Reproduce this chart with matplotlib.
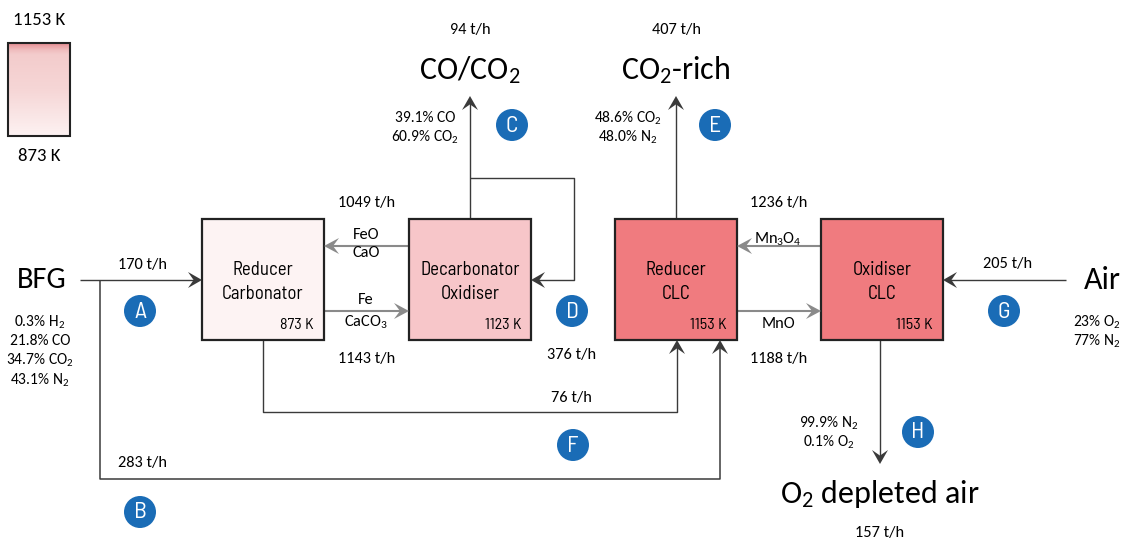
"""Process flow diagram: BFG chemical looping with Ca/Fe and Mn carriers
"""
import numpy as np
import matplotlib.pyplot as plt
from matplotlib import font_manager
from matplotlib.patches import Rectangle, Circle, Polygon
from matplotlib.colors import LinearSegmentedColormap

installed = {f.name for f in font_manager.fontManager.ttflist}


def pick(options, default):
    for o in options:
        if o in installed:
            return o
    return default


TEXT_FONT = pick(['Carlito', 'Lato'], 'DejaVu Sans')
BOX_FONT = pick(['Barlow Semi Condensed', 'Roboto Condensed', 'Liberation Sans Narrow'], TEXT_FONT)
BOX_SIZE = 13.5 if BOX_FONT != TEXT_FONT else 12.5

plt.rcParams['font.family'] = [TEXT_FONT, 'DejaVu Sans']
plt.rcParams['mathtext.fontset'] = 'custom'
plt.rcParams['mathtext.rm'] = TEXT_FONT
plt.rcParams['mathtext.it'] = TEXT_FONT + ':italic'
plt.rcParams['mathtext.bf'] = TEXT_FONT + ':bold'

# reactors
box_names = ['Reducer\nCarbonator', 'Decarbonator\nOxidiser', 'Reducer\nCLC', 'Oxidiser\nCLC']
box_temps = ['873 K', '1123 K', '1153 K', '1153 K']
box_colors = ['#fdf3f3', '#f7c6c9', '#f07b7f', '#f07b7f']

# stream points
stream_ids = ['A', 'B', 'C', 'D', 'E', 'F', 'G', 'H']
flow_labels = ['170 t/h', '283 t/h', '94 t/h', '376 t/h', '407 t/h', '76 t/h', '205 t/h', '157 t/h']

# solids circulation
solid_flows = ['1049 t/h', '1143 t/h', '1236 t/h', '1188 t/h']
solid_species = ['FeO\nCaO', 'Fe\nCaCO$_3$', 'Mn$_3$O$_4$', 'MnO']

# compositions
bfg_comp = ['0.3% H$_2$', '21.8% CO', '34.7% CO$_2$', '43.1% N$_2$']
coco2_comp = ['39.1% CO', '60.9% CO$_2$']
rich_comp = ['48.6% CO$_2$', '48.0% N$_2$']
air_comp = ['23% O$_2$', '77% N$_2$']
depl_comp = ['99.9% N$_2$', '0.1% O$_2$']

temp_range = ['1153 K', '873 K']

LINE = '#3a3a3a'
GREY = '#8a8a8a'
BLUE = '#1a6cb6'
CARLITO = TEXT_FONT == 'Carlito'
SMALL = 11.8 if CARLITO else 10.5
COMP = 11.2 if CARLITO else 10
BIG = 23 if CARLITO else 22
LEG = 13.5 if CARLITO else 12.5


def head(ax, tip, direction, color, L=14, W=8):
    d = np.array(direction, float)
    d /= np.linalg.norm(d)
    n = np.array([-d[1], d[0]])
    t = np.array(tip, float)
    pts = [t, t - L * d + W * n, t - 0.6 * L * d, t - L * d - W * n]
    ax.add_patch(Polygon(pts, closed=True, facecolor=color, edgecolor='none', zorder=5))


def flow(ax, pts, color=LINE, lw=1.0, arrow=True, L=14, W=8):
    xs, ys = zip(*pts)
    if arrow:
        d = np.subtract(pts[-1], pts[-2]).astype(float)
        d /= np.linalg.norm(d)
        end = np.array(pts[-1]) - d * 0.5 * L
        xs = list(xs[:-1]) + [end[0]]
        ys = list(ys[:-1]) + [end[1]]
    ax.plot(xs, ys, color=color, lw=lw, solid_capstyle='butt', zorder=3)
    if arrow:
        head(ax, pts[-1], np.subtract(pts[-1], pts[-2]), color, L, W)


def badge(ax, x, y, letter):
    ax.add_patch(Circle((x, y), 16, facecolor=BLUE, edgecolor='none', zorder=6))
    ax.text(x, y + 1, letter, color='white', fontsize=17, ha='center', va='center',
            family=[BOX_FONT, 'DejaVu Sans'], zorder=7)


def main():
    fig = plt.figure(figsize=(11.26, 5.41), dpi=100)
    ax = fig.add_axes([0, 0, 1, 1])
    ax.set_xlim(0, 1126)
    ax.set_ylim(541, 0)
    ax.axis('off')

    # temperature scale
    cmap = LinearSegmentedColormap.from_list(
        'temp', [(0, '#e68f94'), (0.07, '#efbcbd'), (0.12, '#f3cccc'), (0.5, '#f6d6d6'), (1, '#fdf2f2')])
    grad = np.linspace(0, 1, 200).reshape(-1, 1)
    ax.imshow(grad, cmap=cmap, extent=(8, 70, 136, 43), aspect='auto', zorder=1)
    ax.add_patch(Rectangle((8, 43), 62, 93, fill=False, edgecolor='#222222', lw=1.5, zorder=2))
    ax.text(39, 20, temp_range[0], fontsize=LEG, ha='center', va='center')
    ax.text(39, 156, temp_range[1], fontsize=LEG, ha='center', va='center')

    # reactors
    box_x = [202, 409, 615, 821]
    bw, top, bh = 122, 219, 121
    for x, name, temp, col in zip(box_x, box_names, box_temps, box_colors):
        ax.add_patch(Rectangle((x, top), bw, bh, facecolor=col, edgecolor='#222222', lw=1.6, zorder=4))
        ax.text(x + bw / 2, top + 63, name, fontsize=BOX_SIZE, ha='center', va='center',
                family=[BOX_FONT, 'DejaVu Sans'], linespacing=1.45, zorder=5)
        ax.text(x + bw - 10, top + 106, temp, fontsize=BOX_SIZE - 2, ha='right', va='center',
                family=[BOX_FONT, 'DejaVu Sans'], zorder=5)

    y_mid = 280
    # BFG feed
    ax.text(42, y_mid, 'BFG', fontsize=BIG - 1, ha='center', va='center')
    flow(ax, [(80, y_mid), (202, y_mid)])
    flow(ax, [(100, y_mid), (100, 479), (720, 479), (720, 340)], lw=1.1)
    flow(ax, [(263, 340), (263, 412), (677, 412), (677, 340)])
    ax.text(142, 265, flow_labels[0], fontsize=SMALL, ha='center', va='center')
    ax.text(142, 463, flow_labels[1], fontsize=SMALL, ha='center', va='center')
    ax.text(571, 398, flow_labels[5], fontsize=SMALL, ha='center', va='center')
    for i, t in enumerate(bfg_comp):
        ax.text(40, 322 + i * 19.3, t, fontsize=COMP, ha='center', va='center')

    # decarbonator outlet and recycle
    flow(ax, [(470, 219), (470, 96)])
    flow(ax, [(470, 178), (574, 178), (574, 280), (531, 280)])
    ax.text(470, 70, 'CO/CO$_2$', fontsize=BIG, ha='center', va='center')
    ax.text(470, 30, flow_labels[2], fontsize=SMALL, ha='center', va='center')
    for i, t in enumerate(coco2_comp):
        ax.text(425, 118 + i * 19, t, fontsize=COMP, ha='center', va='center')
    ax.text(572, 355, flow_labels[3], fontsize=SMALL, ha='center', va='center')

    # CLC reducer outlet
    flow(ax, [(676, 219), (676, 96)])
    ax.text(676, 70, 'CO$_2$-rich', fontsize=BIG, ha='center', va='center')
    ax.text(676, 30, flow_labels[4], fontsize=SMALL, ha='center', va='center')
    for i, t in enumerate(rich_comp):
        ax.text(628, 118 + i * 19, t, fontsize=COMP, ha='center', va='center')

    # air
    flow(ax, [(1066, y_mid), (943, y_mid)])
    ax.text(1102, y_mid, 'Air', fontsize=BIG, ha='center', va='center')
    ax.text(1008, 264, flow_labels[6], fontsize=SMALL, ha='center', va='center')
    for i, t in enumerate(air_comp):
        ax.text(1097, 322 + i * 19, t, fontsize=COMP, ha='center', va='center')

    # depleted air
    flow(ax, [(880, 340), (880, 464)])
    ax.text(880, 494, 'O$_2$ depleted air', fontsize=BIG, ha='center', va='center')
    ax.text(880, 533, flow_labels[7], fontsize=SMALL, ha='center', va='center')
    for i, t in enumerate(depl_comp):
        ax.text(829, 423 + i * 19, t, fontsize=COMP, ha='center', va='center')

    # solids loops
    for x0, x1, k in [(324, 409, 0), (737, 821, 2)]:
        xm = (x0 + x1) / 2
        flow(ax, [(x1, 246), (x0, 246)], color=GREY, lw=1.5, L=15, W=8)
        flow(ax, [(x0, 311), (x1, 311)], color=GREY, lw=1.5, L=15, W=8)
        ax.text(xm, 203, solid_flows[k], fontsize=SMALL, ha='center', va='center')
        ax.text(xm, 359, solid_flows[k + 1], fontsize=SMALL, ha='center', va='center')
    ax.text(366, 244, solid_species[0], fontsize=SMALL, ha='center', va='center', linespacing=1.45)
    ax.text(366, 312, solid_species[1], fontsize=SMALL, ha='center', va='center', linespacing=1.45)
    ax.text(778, 239, solid_species[2], fontsize=SMALL, ha='center', va='center')
    ax.text(778, 324, solid_species[3], fontsize=SMALL, ha='center', va='center')

    # stream markers
    badge_xy = [(140, 311), (140, 512), (512, 125), (572, 311),
                (715, 125), (573, 445), (1004, 311), (918, 432)]
    for (x, y), s in zip(badge_xy, stream_ids):
        badge(ax, x, y, s)

    fig.savefig('out.png', dpi=100, facecolor='white')
    plt.close()


if __name__ == '__main__':
    main()
